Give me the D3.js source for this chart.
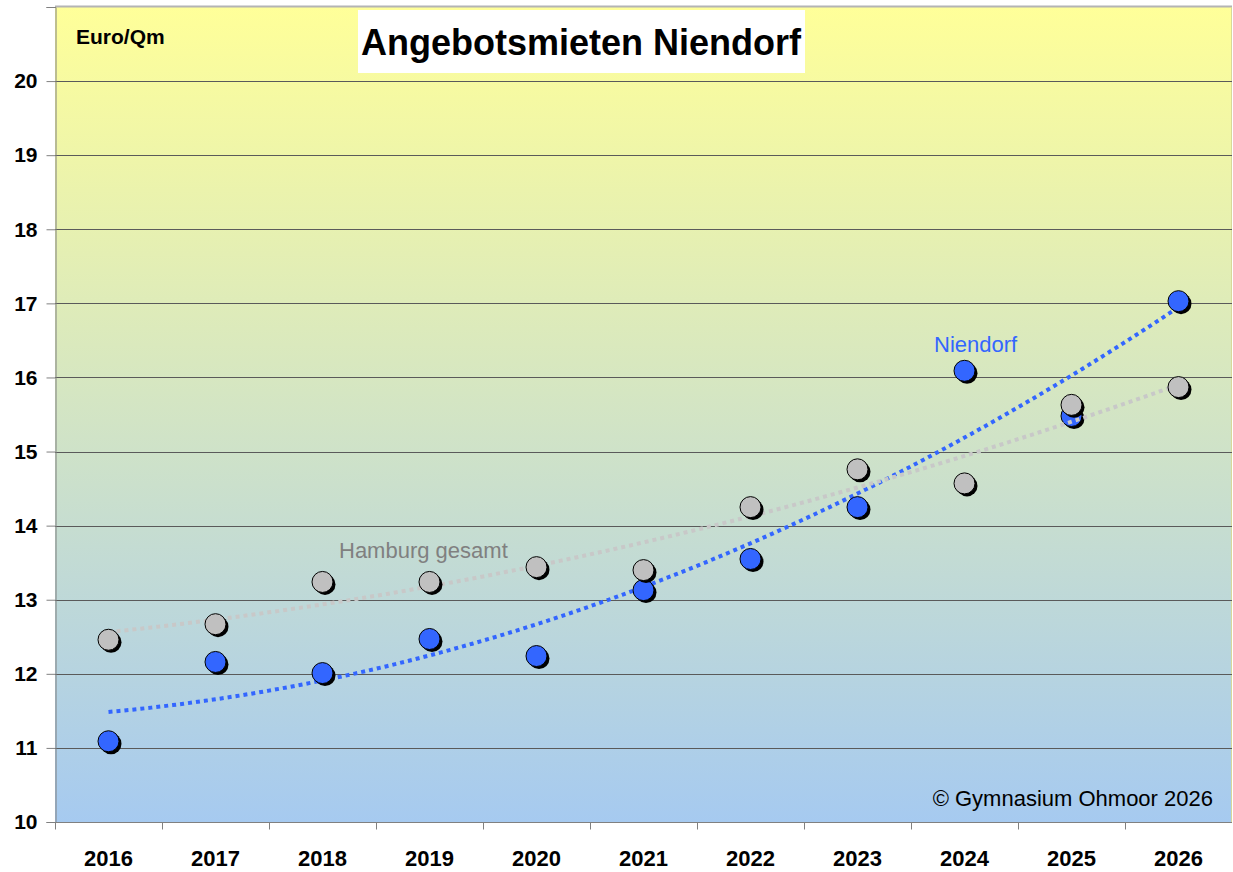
<!DOCTYPE html>
<html>
<head>
<meta charset="utf-8">
<script src="https://cdn.jsdelivr.net/npm/d3@7"></script>
<style>
  body { margin: 0; background: #fff; }
  svg { display: block; font-family: "Liberation Sans", Arial, sans-serif; }
</style>
</head>
<body>
<div id="chart"></div>
<script>
const years = ['2016', '2017', '2018', '2019', '2020', '2021', '2022', '2023', '2024', '2025', '2026'];
const niendorf = [11.09, 12.16, 12.01, 12.47, 12.24, 13.13, 13.55, 14.25, 16.09, 15.48, 17.03];
const hamburg = [12.46, 12.67, 13.24, 13.24, 13.44, 13.40, 14.25, 14.76, 14.57, 15.63, 15.87];
const yTicks = [10, 11, 12, 13, 14, 15, 16, 17, 18, 19, 20];

const width = 1233, height = 872;
const margin = { left: 55, right: 1, top: 7, bottom: 50 };

const svg = d3.select('#chart').append('svg')
    .attr('width', width)
    .attr('height', height);

const x = d3.scaleBand()
    .domain(years)
    .range([margin.left, width - margin.right]);

const y = d3.scaleLinear()
    .domain([10, 21])
    .range([height - margin.bottom, margin.top]);

// background gradient
const grad = svg.append('defs').append('linearGradient')
    .attr('id', 'bg')
    .attr('x1', 0).attr('y1', 0).attr('x2', 0).attr('y2', 1);
grad.append('stop').attr('offset', '0%').attr('stop-color', '#ffff99');
grad.append('stop').attr('offset', '100%').attr('stop-color', '#a6caf0');

svg.append('rect')
    .attr('x', margin.left)
    .attr('y', y(21))
    .attr('width', x.range()[1] - margin.left)
    .attr('height', y(10) - y(21))
    .attr('fill', 'url(#bg)');

// top and right border of the plot area
svg.append('line')
    .attr('x1', margin.left).attr('x2', x.range()[1])
    .attr('y1', y(21) - 0.5).attr('y2', y(21) - 0.5)
    .attr('stroke', '#b4b4b4').attr('stroke-width', 2);
svg.append('line')
    .attr('x1', x.range()[1] - 0.5).attr('x2', x.range()[1] - 0.5)
    .attr('y1', y(21)).attr('y2', y(10))
    .attr('stroke', '#d8d89a').attr('stroke-width', 1);

// grid lines
svg.append('g')
    .selectAll('line')
    .data(yTicks.slice(1))
    .join('line')
    .attr('x1', margin.left).attr('x2', x.range()[1])
    .attr('y1', d => Math.round(y(d)) + 0.5).attr('y2', d => Math.round(y(d)) + 0.5)
    .attr('stroke', '#5a5a5a')
    .attr('stroke-width', 1);

// y axis
const yAxis = svg.append('g')
    .attr('transform', `translate(${margin.left + 0.5},0)`)
    .call(d3.axisLeft(y).tickValues(d3.range(10, 22)).tickSize(9).tickPadding(9)
        .tickFormat(d => d <= 20 ? d : ''));
yAxis.select('.domain').attr('stroke', '#808080');
yAxis.selectAll('.tick line').attr('stroke', '#808080');
yAxis.selectAll('text')
    .attr('fill', '#000')
    .style('font-size', '21px')
    .style('font-weight', 'bold')
    .style('font-family', '"Liberation Sans", Arial, sans-serif');

// x axis: ticks at band boundaries
const xAxisG = svg.append('g')
    .attr('transform', `translate(0,${Math.round(y(10)) + 0.5})`);
xAxisG.append('line')
    .attr('x1', margin.left).attr('x2', x.range()[1])
    .attr('stroke', '#808080');
xAxisG.selectAll('line.tick')
    .data(years)
    .join('line')
    .attr('class', 'tick')
    .attr('x1', d => Math.round(x(d)) + 0.5).attr('x2', d => Math.round(x(d)) + 0.5)
    .attr('y1', 0).attr('y2', 7)
    .attr('stroke', '#808080');
xAxisG.selectAll('text')
    .data(years)
    .join('text')
    .attr('x', d => x(d) + x.bandwidth() / 2)
    .attr('y', 43)
    .attr('text-anchor', 'middle')
    .style('font-size', '22px')
    .style('font-weight', 'bold')
    .text(d => d);

// quadratic least squares trend, as Excel's polynomial trendline
function quadFit(values) {
    let s = [0, 0, 0, 0, 0], t = [0, 0, 0];
    values.forEach((v, i) => {
        const xi = i + 1;
        for (let k = 0; k < 5; k++) s[k] += Math.pow(xi, k);
        for (let k = 0; k < 3; k++) t[k] += v * Math.pow(xi, k);
    });
    const A = [[s[0], s[1], s[2]], [s[1], s[2], s[3]], [s[2], s[3], s[4]]];
    const det = m => m[0][0] * (m[1][1] * m[2][2] - m[1][2] * m[2][1])
        - m[0][1] * (m[1][0] * m[2][2] - m[1][2] * m[2][0])
        + m[0][2] * (m[1][0] * m[2][1] - m[1][1] * m[2][0]);
    const D = det(A);
    const coef = [0, 1, 2].map(c => det(A.map((row, r) => row.map((v, j) => j === c ? t[r] : v))) / D);
    return xi => coef[0] + coef[1] * xi + coef[2] * xi * xi;
}

const cx = i => x(years[i]) + x.bandwidth() / 2;

function drawSeries(values, color, trendColor) {
    const f = quadFit(values);
    const pts = d3.range(1, values.length + 0.001, 0.1).map(xi => [xi, f(xi)]);
    const line = d3.line()
        .x(d => cx(0) + (d[0] - 1) * x.step())
        .y(d => y(d[1]));
    svg.append('path')
        .datum(pts)
        .attr('d', line)
        .attr('fill', 'none')
        .attr('stroke', trendColor)
        .attr('stroke-width', 4)
        .attr('stroke-dasharray', '4,4');

    const g = svg.append('g');
    g.selectAll('circle.shadow')
        .data(values)
        .join('circle')
        .attr('class', 'shadow')
        .attr('cx', (d, i) => cx(i) + 2.5)
        .attr('cy', d => y(d) + 2.5)
        .attr('r', 10.5)
        .attr('fill', '#000');
    g.selectAll('circle.dot')
        .data(values)
        .join('circle')
        .attr('class', 'dot')
        .attr('cx', (d, i) => cx(i))
        .attr('cy', d => y(d))
        .attr('r', 10.5)
        .attr('fill', color)
        .attr('stroke', '#000')
        .attr('stroke-width', 1);
}

drawSeries(niendorf, '#3366ff', '#3366ff');
drawSeries(hamburg, '#c0c0c0', '#c8c8c8');

// labels
svg.append('text')
    .attr('x', 934).attr('y', 352)
    .attr('fill', '#3366ff')
    .style('font-size', '22px')
    .text('Niendorf');
svg.append('text')
    .attr('x', 339).attr('y', 558)
    .attr('fill', '#808080')
    .style('font-size', '22px')
    .text('Hamburg gesamt');

// title box
svg.append('rect')
    .attr('x', 358).attr('y', 10)
    .attr('width', 447).attr('height', 63)
    .attr('fill', '#fff');
svg.append('text')
    .attr('x', 581).attr('y', 55)
    .attr('text-anchor', 'middle')
    .style('font-size', '36px')
    .style('font-weight', 'bold')
    .text('Angebotsmieten Niendorf');

svg.append('text')
    .attr('x', 76).attr('y', 44)
    .style('font-size', '21px')
    .style('font-weight', 'bold')
    .text('Euro/Qm');

svg.append('text')
    .attr('x', 1213).attr('y', 806)
    .attr('text-anchor', 'end')
    .style('font-size', '22px')
    .text('© Gymnasium Ohmoor 2026');
</script>
</body>
</html>
